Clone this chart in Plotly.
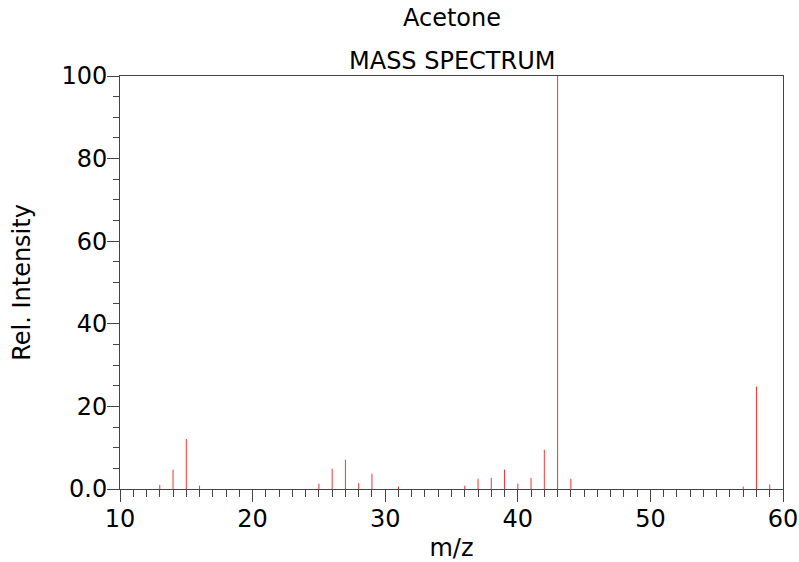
import plotly.graph_objects as go

mz = [13, 14, 15, 16, 25, 26, 27, 28, 29, 31, 36, 37, 38, 39, 40, 41, 42, 43, 44, 57, 58, 59]
intensity = [1.0, 4.7, 12.1, 0.8, 1.3, 4.9, 7.1, 1.4, 3.7, 0.6, 0.8, 2.5, 2.7, 4.7, 1.3, 2.7, 9.5, 100, 2.5, 0.6, 24.8, 1.1]

y_tickvals = [0, 20, 40, 60, 80, 100]
y_ticktext = ["0.0", "20", "40", "60", "80", "100"]
x_tickvals = [10, 20, 30, 40, 50, 60]

xs, ys = [], []
for m, v in zip(mz, intensity):
    xs += [m, m, None]
    ys += [0, v, None]

FONT = "DejaVu Sans"
FS = 24
fig = go.Figure()
fig.add_trace(go.Scatter(x=xs, y=ys, mode="lines",
                         line=dict(color="#ff3030", width=1),
                         hoverinfo="skip", showlegend=False))

axis_common = dict(showline=True, linecolor="#444", linewidth=1, mirror=True,
                   showgrid=False, zeroline=False, ticks="outside", automargin=False,
                   tickcolor="#444", tickfont=dict(family=FONT, size=FS, color="black"))

fig.update_xaxes(range=[10, 60], tickvals=x_tickvals, ticklen=12, ticklabelstandoff=-4,
                 minor=dict(dtick=1, ticklen=7, tickcolor="#444", ticks="outside"),
                 title=dict(text="m/z", font=dict(family=FONT, size=FS, color="black"), standoff=18),
                 **axis_common)
fig.update_yaxes(range=[0, 100], tickvals=y_tickvals, ticktext=y_ticktext, ticklen=12, ticklabelstandoff=-5,
                 minor=dict(dtick=5, ticklen=6, tickcolor="#444", ticks="outside"),
                 title=dict(text="Rel. Intensity", font=dict(family=FONT, size=FS, color="black"), standoff=23),
                 **axis_common)

fig.add_annotation(text="Acetone", x=0.5, y=1.14, xref="paper", yref="paper",
                   showarrow=False, yanchor="middle",
                   font=dict(family=FONT, size=FS, color="black"))
fig.add_annotation(text="MASS SPECTRUM", x=0.5, y=1.036, xref="paper", yref="paper",
                   showarrow=False, yanchor="middle",
                   font=dict(family=FONT, size=FS, color="black"))

fig.update_layout(width=799, height=562, margin=dict(l=120, r=16, t=76, b=73),
                  paper_bgcolor="white", plot_bgcolor="white",
                  font=dict(family=FONT, size=FS, color="black"))

fig.write_html("out.html", config={"displayModeBar": False},
               post_script="document.body.style.margin='0';")
